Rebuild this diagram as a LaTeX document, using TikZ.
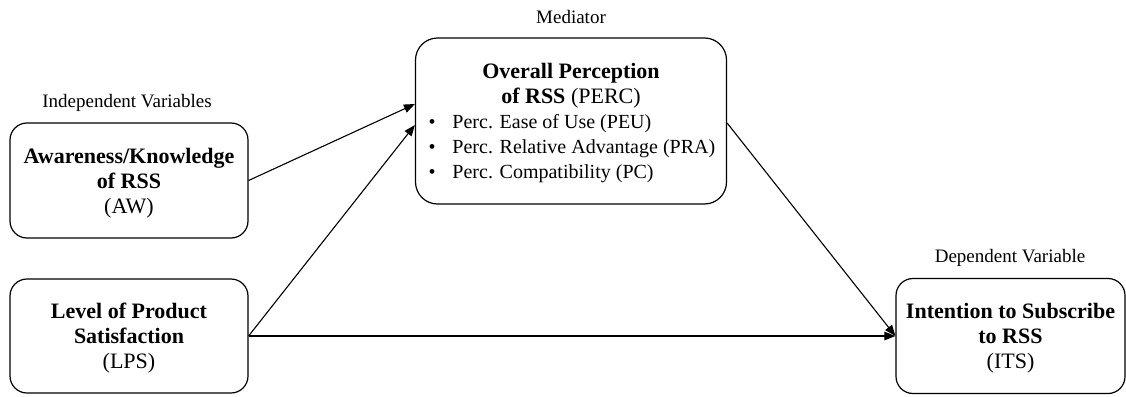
\documentclass[tikz,border=0pt]{standalone}
\usepackage{fontspec}
\setmainfont{Liberation Serif}
\usetikzlibrary{arrows.meta,calc}
\newcommand\percitem[1]{\fontsize{20}{24.5}\selectfont\makebox[285pt][l]{\makebox[24pt][l]{\textbullet}#1}}
\begin{document}
\begin{tikzpicture}[x=1pt,y=-1pt,
  box/.style={draw, line width=1.2pt, rounded corners=17pt, align=center, inner sep=0pt,
    font=\fontsize{22}{25}\selectfont},
  lbl/.style={font=\fontsize{19}{22}\selectfont, inner sep=0pt, anchor=base},
  arr/.style={-{Triangle[length=11pt,width=8.5pt]}, line width=1.1pt}]
\path[use as bounding box] (0,0) rectangle (1126,396);

\node[lbl] (lind) at (127,107.5) {Independent Variables};
\node[lbl] (lmed) at (571,24) {Mediator};
\node[lbl] (ldep) at (1010,262) {Dependent Variable};

\node[box, minimum width=238pt, minimum height=115pt] (aw) at (129,180.5)
  {\textbf{Awareness/Knowledge}\\\textbf{of RSS}\\\raisebox{0pt}[\height][0pt]{(AW)}};
\node[box, minimum width=238pt, minimum height=114pt] (lps) at (129,336)
  {\textbf{Level of Product}\\\textbf{Satisfaction}\\\raisebox{0pt}[\height][0pt]{(LPS)}};
\node[box, minimum width=229pt, minimum height=115pt] (its) at (1010.5,336)
  {\textbf{Intention to Subscribe}\\\textbf{to RSS}\\\raisebox{0pt}[\height][0pt]{(ITS)}};
\node[box, rounded corners=22pt, minimum width=311pt, minimum height=166pt] (perc) at (571,121)
  {\textbf{Overall Perception}\\\textbf{of RSS} (PERC)\\
   \percitem{Perc. Ease of Use (PEU)}\\
   \percitem{Perc. Relative Advantage (PRA)}\\
   \raisebox{0pt}[\height][-2pt]{\percitem{Perc. Compatibility (PC)}}};

\draw[arr] (aw.east) -- ($(perc.west)+(0,-17)$);
\draw[arr] (lps.east) -- ($(perc.west)+(0,4)$);
\draw[arr] (lps.east) -- (its.west);
\draw[arr] ($(perc.east)+(0,2)$) -- (its.west);
\end{tikzpicture}
\end{document}
